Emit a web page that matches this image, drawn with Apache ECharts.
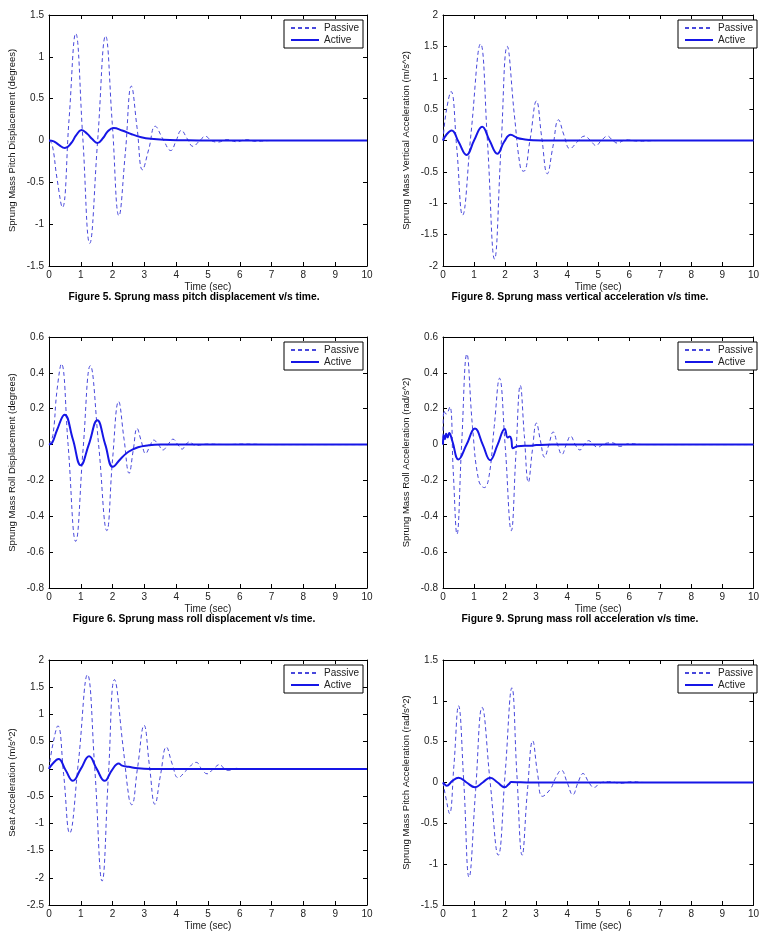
<!DOCTYPE html>
<html>
<head>
<meta charset="utf-8">
<script src="https://cdn.jsdelivr.net/npm/echarts@6/dist/echarts.min.js"></script>
<style>
  html, body { margin: 0; padding: 0; background: #fff; }
  #chart { width: 762px; height: 932px; }
</style>
</head>
<body>
<div id="chart"></div>
<script>
// time (sec) / value pairs
const pitchDispPassive = [[0,0],[0.1,-0.05],[0.25,-0.45],[0.42,-0.80],[0.63,0.25],[0.84,1.28],[1.06,0.05],[1.28,-1.23],[1.53,0.0],[1.78,1.25],[1.99,0.2],[2.2,-0.90],[2.4,-0.15],[2.59,0.65],[2.77,0.15],[2.94,-0.35],[3.14,-0.1],[3.34,0.17],[3.58,0.02],[3.83,-0.12],[4.0,0],[4.16,0.12],[4.35,0.02],[4.53,-0.07],[4.72,-0.01],[4.92,0.05],[5.1,0],[5.3,-0.02],[5.6,0.01],[5.9,-0.015],[6.2,0.01],[6.5,-0.01],[7,0],[10,0]];
const pitchDispActive = [[0,0],[0.15,-0.01],[0.3,-0.05],[0.5,-0.09],[0.7,-0.03],[0.85,0.06],[1.02,0.125],[1.2,0.08],[1.35,0.02],[1.52,-0.03],[1.7,0.03],[1.85,0.11],[2.03,0.15],[2.3,0.12],[2.6,0.075],[2.9,0.04],[3.2,0.02],[3.6,0.008],[4.2,0.003],[5,0],[10,0]];

const vertAccPassive = [[0,0],[0.1,0.45],[0.26,0.78],[0.44,-0.1],[0.63,-1.19],[0.9,0.1],[1.21,1.54],[1.43,0.0],[1.66,-1.89],[1.87,-0.1],[2.07,1.50],[2.3,0.4],[2.5,-0.45],[2.6,-0.49],[2.8,0.0],[3.01,0.63],[3.18,0.05],[3.36,-0.53],[3.54,-0.1],[3.72,0.33],[3.9,0.08],[4.09,-0.13],[4.33,-0.02],[4.56,0.07],[4.75,0],[4.93,-0.08],[5.1,0],[5.3,0.07],[5.45,0.01],[5.61,-0.04],[5.9,0.01],[6.3,-0.01],[7,0],[10,0]];
const vertAccActive = [[0,0],[0.12,0.1],[0.28,0.16],[0.5,-0.02],[0.76,-0.23],[1.0,0.0],[1.26,0.22],[1.5,0.0],[1.75,-0.21],[1.97,-0.02],[2.18,0.09],[2.4,0.04],[2.6,0.02],[2.9,0.005],[3.5,0],[10,0]];

const rollDispPassive = [[0,0],[0.12,0.05],[0.25,0.3],[0.39,0.45],[0.6,0.0],[0.84,-0.54],[1.07,-0.03],[1.30,0.44],[1.56,0.0],[1.82,-0.48],[2.0,-0.08],[2.19,0.24],[2.36,0.03],[2.52,-0.16],[2.65,-0.03],[2.77,0.09],[2.9,0.02],[3.04,-0.05],[3.17,-0.01],[3.29,0.025],[3.44,0],[3.58,-0.03],[3.74,0],[3.9,0.03],[4.05,0],[4.19,-0.025],[4.3,0],[4.42,0.015],[4.6,-0.005],[5,0.003],[5.6,0],[6.1,0.003],[7,0],[10,0]];
const rollDispActive = [[0,0],[0.1,0.01],[0.25,0.08],[0.49,0.167],[0.75,0.03],[1.0,-0.115],[1.25,0.0],[1.52,0.135],[1.77,0.0],[2.01,-0.124],[2.25,-0.08],[2.5,-0.04],[2.8,-0.015],[3.1,-0.005],[3.5,0],[10,0]];

const rollAccPassive = [[0,0],[0.03,0.19],[0.1,0.17],[0.22,0.21],[0.33,-0.15],[0.45,-0.50],[0.6,0.0],[0.77,0.505],[0.95,0.1],[1.15,-0.2],[1.33,-0.24],[1.48,-0.18],[1.65,0.1],[1.82,0.37],[2.0,0.0],[2.2,-0.48],[2.35,-0.05],[2.49,0.33],[2.62,0.05],[2.75,-0.21],[2.88,-0.03],[3.01,0.12],[3.14,0.02],[3.27,-0.07],[3.41,0],[3.55,0.07],[3.69,0],[3.83,-0.055],[3.97,0],[4.11,0.047],[4.26,0],[4.41,-0.03],[4.55,0],[4.69,0.022],[4.84,0],[4.98,-0.015],[5.2,0.005],[5.45,0.01],[5.7,-0.01],[6,0.005],[6.5,0],[10,0]];
const rollAccActive = [[0,0],[0.02,0.05],[0.06,0.03],[0.1,0.06],[0.15,0.04],[0.2,0.065],[0.3,0.02],[0.5,-0.083],[0.76,0.0],[1.03,0.089],[1.28,0.0],[1.52,-0.087],[1.76,0.0],[1.99,0.087],[2.08,0.04],[2.15,0.045],[2.2,0.03],[2.25,-0.02],[2.4,-0.01],[2.8,-0.006],[3.0,-0.003],[3.5,0],[10,0]];

const seatAccPassive = [[0,0],[0.12,0.45],[0.28,0.79],[0.46,-0.1],[0.65,-1.18],[0.92,0.1],[1.21,1.73],[1.44,0],[1.67,-2.06],[1.87,-0.1],[2.06,1.64],[2.33,0.4],[2.52,-0.55],[2.6,-0.66],[2.78,0],[2.99,0.80],[3.16,0.05],[3.33,-0.65],[3.51,-0.1],[3.69,0.40],[3.88,0.08],[4.06,-0.16],[4.33,-0.02],[4.63,0.12],[4.8,0],[4.97,-0.09],[5.17,0],[5.37,0.08],[5.5,0.01],[5.64,-0.03],[5.9,0.01],[6.3,-0.01],[7,0],[10,0]];
const seatAccActive = [[0,0],[0.12,0.1],[0.3,0.18],[0.52,-0.02],[0.75,-0.22],[1.0,0.0],[1.26,0.23],[1.5,0.0],[1.75,-0.22],[1.97,-0.03],[2.19,0.10],[2.3,0.06],[2.5,0.04],[2.8,0.01],[3.2,0],[10,0]];

const pitchAccPassive = [[0,0],[0.1,-0.2],[0.21,-0.38],[0.35,0.2],[0.5,0.94],[0.67,0.0],[0.84,-1.16],[1.05,-0.1],[1.26,0.92],[1.52,0.0],[1.78,-0.89],[2.0,0.1],[2.22,1.16],[2.38,0.1],[2.55,-0.89],[2.72,-0.1],[2.89,0.51],[3.05,0.1],[3.2,-0.17],[3.46,-0.08],[3.62,0.05],[3.81,0.15],[4.0,0],[4.18,-0.15],[4.35,0],[4.51,0.11],[4.7,0],[4.86,-0.06],[5.1,0],[5.4,0.01],[5.7,-0.01],[6.1,0.01],[6.5,0],[10,0]];
const pitchAccActive = [[0,0],[0.05,-0.02],[0.12,-0.04],[0.3,0.02],[0.5,0.058],[0.76,0.0],[1.03,-0.058],[1.28,0.0],[1.52,0.058],[1.76,0.0],[1.99,-0.058],[2.12,-0.02],[2.2,0.005],[2.5,0.003],[3,0],[10,0]];

const xTitle = 'Time (sec)';
const legendNames = ['Passive', 'Active'];

// one entry per panel: left-column panels first, row by row
const panels = [
  { passive: pitchDispPassive, active: pitchDispActive, min: -1.5, max: 1.5, step: 0.5,
    yTitle: 'Sprung Mass Pitch Displacement (degrees)', caption: 'Figure 5. Sprung mass pitch displacement v/s time.' },
  { passive: vertAccPassive, active: vertAccActive, min: -2, max: 2, step: 0.5,
    yTitle: 'Sprung Mass Vertical Acceleration (m/s^2)', caption: 'Figure 8. Sprung mass vertical acceleration v/s time.' },
  { passive: rollDispPassive, active: rollDispActive, min: -0.8, max: 0.6, step: 0.2,
    yTitle: 'Sprung Mass Roll Displacement (degrees)', caption: 'Figure 6. Sprung mass roll displacement v/s time.' },
  { passive: rollAccPassive, active: rollAccActive, min: -0.8, max: 0.6, step: 0.2,
    yTitle: 'Sprung Mass Roll Acceleration (rad/s^2)', caption: 'Figure 9. Sprung mass roll acceleration v/s time.' },
  { passive: seatAccPassive, active: seatAccActive, min: -2.5, max: 2, step: 0.5,
    yTitle: 'Seat Acceleration (m/s^2)', caption: '' },
  { passive: pitchAccPassive, active: pitchAccActive, min: -1.5, max: 1.5, step: 0.5,
    yTitle: 'Sprung Mass Pitch Acceleration (rad/s^2)', caption: '' },
];

const colLeft = [49, 443];
const rowTop = [15, 337, 660];
const captionX = [194, 580];
const plotW = 318, plotH = 251;
const FONT = '"Liberation Sans", Arial, sans-serif';

const chart = echarts.init(document.getElementById('chart'));

const grid = [], xAxis = [], yAxis = [], series = [], legend = [], graphic = [];
const tickStyle = { show: true, inside: true, length: 4, lineStyle: { color: '#000' } };
const lineStyle = { show: true, onZero: false, lineStyle: { color: '#000', width: 1 } };
const labelStyle = { color: '#222', fontSize: 10, fontFamily: FONT };

panels.forEach((p, i) => {
  const col = i % 2, row = Math.floor(i / 2);
  const left = colLeft[col], top = rowTop[row];
  grid.push({ left, top, width: plotW, height: plotH });

  // bottom + top x axes, left + right y axes (boxed plot, ticks inward)
  xAxis.push({
    gridIndex: i, type: 'value', min: 0, max: 10, interval: 1,
    axisLine: lineStyle, axisTick: tickStyle, splitLine: { show: false },
    axisLabel: Object.assign({ margin: 4 }, labelStyle),
    name: xTitle, nameLocation: 'middle', nameGap: 16,
    nameTextStyle: { color: '#222', fontSize: 10, fontFamily: FONT },
  });
  xAxis.push({
    gridIndex: i, type: 'value', position: 'top', min: 0, max: 10, interval: 1,
    axisLine: lineStyle, axisTick: tickStyle, splitLine: { show: false },
    axisLabel: { show: false },
  });
  yAxis.push({
    gridIndex: i, type: 'value', min: p.min, max: p.max, interval: p.step,
    axisLine: lineStyle, axisTick: tickStyle, splitLine: { show: false },
    axisLabel: Object.assign({ margin: 5 }, labelStyle),
    name: p.yTitle, nameLocation: 'middle', nameGap: 32, nameRotate: 90,
    nameTextStyle: { color: '#111', fontSize: 9.5, fontFamily: FONT },
  });
  yAxis.push({
    gridIndex: i, type: 'value', position: 'right', min: p.min, max: p.max, interval: p.step,
    axisLine: lineStyle, axisTick: tickStyle, splitLine: { show: false },
    axisLabel: { show: false },
  });

  series.push({
    name: 'Passive', type: 'line', xAxisIndex: 2 * i, yAxisIndex: 2 * i,
    data: p.passive, smooth: 0.45, symbol: 'none', silent: true,
    lineStyle: { color: '#4848dc', width: 1, type: [4, 3] },
    itemStyle: { color: '#4848dc' },
  });
  series.push({
    name: 'Active', type: 'line', xAxisIndex: 2 * i, yAxisIndex: 2 * i,
    data: p.active, smooth: 0.45, symbol: 'none', silent: true,
    lineStyle: { color: '#1616e6', width: 2 },
    itemStyle: { color: '#1616e6' },
    z: 3,
  });

  legend.push({
    data: legendNames, orient: 'vertical',
    left: left + 235, top: top + 5,
    backgroundColor: '#fff', borderColor: '#000', borderWidth: 1,
    padding: [3, 4, 3, 6], itemGap: 2, itemWidth: 28, itemHeight: 10,
    itemStyle: { opacity: 0 },
    textStyle: { color: '#222', fontSize: 10, fontFamily: FONT },
    selectedMode: false,
  });

  if (p.caption) {
    graphic.push({
      type: 'text', x: captionX[col], y: top + plotH + 26,
      style: { text: p.caption, fill: '#000', font: 'bold 10.3px ' + FONT, textAlign: 'center' },
    });
  }
});

chart.setOption({
  animation: false,
  backgroundColor: '#fff',
  grid, xAxis, yAxis, series, legend, graphic,
});
</script>
</body>
</html>
